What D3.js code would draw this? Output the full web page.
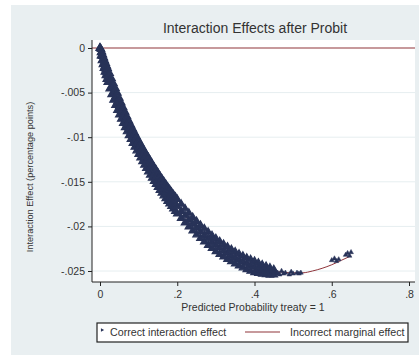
<!DOCTYPE html>
<html>
<head>
<meta charset="utf-8">
<script src="https://cdn.jsdelivr.net/npm/d3@7"></script>
<style>
body { margin: 0; background: #fff; }
svg { display: block; font-family: "Liberation Sans", Arial, sans-serif; }
</style>
</head>
<body>
<div id="chart"></div>
<script>
// predicted probability (x) and the band of correct interaction effects
const phat = [0, 0.0025, 0.005, 0.0075, 0.01, 0.0125, 0.015, 0.0175, 0.02, 0.025, 0.03, 0.035, 0.04, 0.045,
	0.05, 0.055, 0.06, 0.065, 0.07, 0.075, 0.08, 0.085, 0.09, 0.095, 0.10, 0.105, 0.11, 0.115, 0.12, 0.125,
	0.13, 0.135, 0.14, 0.145, 0.15, 0.155, 0.16, 0.165, 0.17, 0.175, 0.18, 0.185, 0.19, 0.195, 0.20,
	0.21, 0.22, 0.23, 0.24, 0.25, 0.26, 0.27, 0.28, 0.29, 0.30, 0.31, 0.32, 0.33, 0.34, 0.35, 0.36,
	0.37, 0.38, 0.39, 0.40, 0.41, 0.42, 0.43, 0.44, 0.45]
const effUpper = [0, -0.00013, -0.00043, -0.00077, -0.0011, -0.00142, -0.00171, -0.00201, -0.00229, -0.00284, -0.00342, -0.00399, -0.00452, -0.00505,
	-0.00561, -0.00615, -0.00667, -0.00718, -0.00769, -0.00817, -0.00864, -0.00908, -0.00952, -0.00995, -0.01038, -0.01077, -0.01116, -0.01155, -0.01191, -0.01227,
	-0.01263, -0.01298, -0.01334, -0.01366, -0.014, -0.01434, -0.01465, -0.01496, -0.01527, -0.01557, -0.01586, -0.01615, -0.01643, -0.0167, -0.01697,
	-0.0175, -0.01801, -0.01851, -0.01898, -0.01943, -0.01986, -0.02025, -0.02064, -0.02102, -0.02136, -0.02169, -0.02201, -0.0223, -0.02258, -0.02285, -0.0231,
	-0.02333, -0.02354, -0.02372, -0.0239, -0.0241, -0.0243, -0.02448, -0.02464, -0.02483]
const effMid = [0, -0.0005, -0.00092, -0.00131, -0.00169, -0.00206, -0.0024, -0.00275, -0.00307, -0.00371, -0.00432, -0.00491, -0.00547, -0.00602,
	-0.00655, -0.00706, -0.00756, -0.00805, -0.00853, -0.00899, -0.00944, -0.00988, -0.01031, -0.01073, -0.01114, -0.01154, -0.01194, -0.01233, -0.0127, -0.01307,
	-0.01343, -0.01378, -0.01414, -0.01447, -0.01481, -0.01514, -0.01545, -0.01576, -0.01607, -0.01637, -0.01666, -0.01695, -0.01723, -0.0175, -0.01778,
	-0.0183, -0.0188, -0.01928, -0.01974, -0.02018, -0.0206, -0.02099, -0.02137, -0.02174, -0.02208, -0.0224, -0.02271, -0.02299, -0.02326, -0.02352, -0.02376,
	-0.02398, -0.02418, -0.02436, -0.02453, -0.02468, -0.02482, -0.02494, -0.02504, -0.02513]
const effLower = [0, -0.00087, -0.00141, -0.00185, -0.00228, -0.0027, -0.00309, -0.00349, -0.00385, -0.00458, -0.00522, -0.00583, -0.00642, -0.00699,
	-0.00749, -0.00797, -0.00845, -0.00892, -0.00937, -0.00981, -0.01024, -0.01068, -0.0111, -0.01151, -0.0119, -0.01231, -0.01272, -0.01311, -0.01349, -0.01387,
	-0.01423, -0.01458, -0.01494, -0.01528, -0.01562, -0.01594, -0.01625, -0.01656, -0.01687, -0.01717, -0.01746, -0.01775, -0.01803, -0.0183, -0.01859,
	-0.0191, -0.01959, -0.02005, -0.0205, -0.02093, -0.02134, -0.02173, -0.0221, -0.02246, -0.0228, -0.02311, -0.02341, -0.02368, -0.02394, -0.02419, -0.02442,
	-0.02463, -0.02482, -0.025, -0.02516, -0.02526, -0.02534, -0.0254, -0.02544, -0.02543]

// sparse points at the right end of the band
const tailP = [0.46, 0.465, 0.47, 0.475, 0.48, 0.49, 0.495, 0.50, 0.51, 0.515, 0.52,
	0.600, 0.607, 0.612, 0.618, 0.636, 0.641, 0.646, 0.65]
const tailEff = [-0.0252, -0.0254, -0.0250, -0.0253, -0.0252, -0.0254, -0.0251, -0.0253, -0.0252, -0.0253, -0.0252,
	-0.0238, -0.0236, -0.0239, -0.0237, -0.0232, -0.0230, -0.0233, -0.0229]

// incorrect marginal effect (line)
const lineP = [0, 0.05, 0.1, 0.15, 0.2, 0.25, 0.3, 0.35, 0.4, 0.45, 0.5, 0.525, 0.55, 0.575, 0.6, 0.625, 0.65]
const lineEff = [0, -0.0065, -0.0111, -0.0148, -0.0178, -0.0202, -0.0221, -0.0235, -0.0245, -0.025, -0.0252, -0.0252, -0.025, -0.0247, -0.0243, -0.0238, -0.0233]

const xTicks = [0, 0.2, 0.4, 0.6, 0.8]
const yTicks = [0, -0.005, -0.01, -0.015, -0.02, -0.025]

const width = 419, height = 357
const plot = { left: 92, right: 415, top: 40, bottom: 282 }
const navy = '#283358'
const maroon = '#90353b'

const svg = d3.select('#chart').append('svg')
	.attr('width', width)
	.attr('height', height)

// graph region
svg.append('rect')
	.attr('x', 11).attr('y', 5)
	.attr('width', width - 11).attr('height', 350)
	.attr('fill', '#e9eff1')

svg.append('rect')
	.attr('x', plot.left).attr('y', plot.top)
	.attr('width', plot.right - plot.left).attr('height', plot.bottom - plot.top)
	.attr('fill', '#fff')

const x = d3.scaleLinear().domain([0, 0.8]).range([100, 409])
const y = d3.scaleLinear().domain([-0.025, 0]).range([271, 48])

// grid lines
svg.append('g').selectAll('line')
	.data(yTicks.filter(d => d !== 0))
	.enter().append('line')
		.attr('x1', plot.left).attr('x2', plot.right)
		.attr('y1', d => y(d)).attr('y2', d => y(d))
		.attr('stroke', '#e6eef0')
		.attr('stroke-width', 1)

// zero line
svg.append('line')
	.attr('x1', plot.left).attr('x2', plot.right)
	.attr('y1', y(0)).attr('y2', y(0))
	.attr('stroke', maroon)
	.attr('stroke-width', 1.2)

// incorrect marginal effect
const line = d3.line()
	.x(d => x(d[0]))
	.y(d => y(d[1]))
	.curve(d3.curveMonotoneX)

svg.append('path')
	.datum(lineP.map((p, i) => [p, lineEff[i]]))
	.attr('d', line)
	.attr('fill', 'none')
	.attr('stroke', maroon)
	.attr('stroke-width', 1)

// correct interaction effect markers
const points = []
phat.forEach((p, i) => {
	points.push([p, effUpper[i]], [p, effMid[i]], [p, effLower[i]])
})

const marker = d3.symbol().type(d3.symbolTriangle).size(24)

svg.append('g').selectAll('path')
	.data(points)
	.enter().append('path')
		.attr('transform', d => `translate(${x(d[0])},${y(d[1])})`)
		.attr('d', marker)
		.attr('fill', navy)
		.attr('stroke', navy)
		.attr('stroke-width', 1.2)

// the sparse tail is drawn with smaller marks
svg.append('g').selectAll('path')
	.data(tailP.map((p, i) => [p, tailEff[i]]))
	.enter().append('path')
		.attr('transform', d => `translate(${x(d[0])},${y(d[1])})`)
		.attr('d', d3.symbol().type(d3.symbolTriangle).size(10))
		.attr('fill', navy)
		.attr('stroke', navy)
		.attr('stroke-width', 0.5)

// axes
const fmt = d => d === 0 ? '0' : (d < 0 ? '-' : '') + String(Math.abs(d)).replace(/^0/, '')

const yAxis = svg.append('g')
	.attr('transform', `translate(${plot.left},0)`)
	.call(d3.axisLeft(y).tickValues(yTicks).tickSize(4).tickPadding(3).tickFormat(fmt))
yAxis.select('.domain').remove()

const xAxis = svg.append('g')
	.attr('transform', `translate(0,${plot.bottom})`)
	.call(d3.axisBottom(x).tickValues(xTicks).tickSize(4).tickPadding(5).tickFormat(fmt))
xAxis.select('.domain').remove()

svg.selectAll('.tick text').attr('fill', '#333').style('font-size', '10.5px')
	.style('font-family', '"Liberation Sans", Arial, sans-serif')
svg.selectAll('.tick line').attr('stroke', '#222')

svg.append('line')
	.attr('x1', plot.left).attr('x2', plot.left)
	.attr('y1', plot.top).attr('y2', plot.bottom)
	.attr('stroke', '#222')
svg.append('line')
	.attr('x1', plot.left).attr('x2', plot.right)
	.attr('y1', plot.bottom).attr('y2', plot.bottom)
	.attr('stroke', '#222')

// titles
svg.append('text')
	.attr('x', 255).attr('y', 33)
	.attr('text-anchor', 'middle')
	.attr('fill', '#333')
	.style('font-size', '14px')
	.text('Interaction Effects after Probit')

svg.append('text')
	.attr('x', 253).attr('y', 311)
	.attr('text-anchor', 'middle')
	.attr('fill', '#333')
	.style('font-size', '10.5px')
	.text('Predicted Probability treaty = 1')

svg.append('text')
	.attr('transform', 'translate(33,177) rotate(-90)')
	.attr('text-anchor', 'middle')
	.attr('fill', '#333')
	.style('font-size', '9.2px')
	.text('Interaction Effect (percentage points)')

// legend
const legend = svg.append('g')
legend.append('rect')
	.attr('x', 97).attr('y', 323)
	.attr('width', 311).attr('height', 19)
	.attr('fill', '#fff')
	.attr('stroke', '#222')
	.attr('stroke-width', 1.2)

legend.append('path')
	.attr('transform', 'translate(102,330) rotate(90)')
	.attr('d', d3.symbol().type(d3.symbolTriangle).size(6))
	.attr('fill', navy)

legend.append('text')
	.attr('x', 110).attr('y', 336)
	.attr('fill', '#333')
	.style('font-size', '10.7px')
	.text('Correct interaction effect')

legend.append('line')
	.attr('x1', 245).attr('x2', 280)
	.attr('y1', 332).attr('y2', 332)
	.attr('stroke', maroon)
	.attr('stroke-width', 1.2)

legend.append('text')
	.attr('x', 290).attr('y', 336)
	.attr('fill', '#333')
	.style('font-size', '10.7px')
	.text('Incorrect marginal effect')
</script>
</body>
</html>
